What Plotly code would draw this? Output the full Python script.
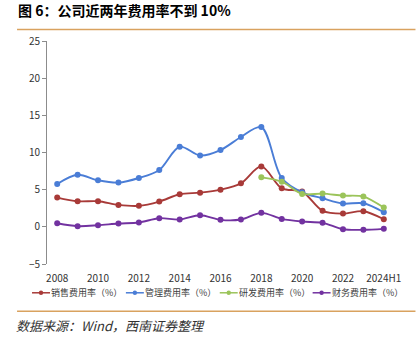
import plotly.graph_objects as go

# 年份（2024 为上半年）
years = ["2008", "2009", "2010", "2011", "2012", "2013", "2014", "2015", "2016",
         "2017", "2018", "2019", "2020", "2021", "2022", "2023", "2024H1"]
tick_years = ["2008", "2010", "2012", "2014", "2016", "2018", "2020", "2022", "2024H1"]

# 各项费用率（%）
sales_rate = [3.93, 3.44, 3.44, 2.95, 2.82, 3.40, 4.38, 4.60, 5.00,
              5.85, 8.13, 5.18, 4.74, 2.15, 1.78, 2.10, 1.02]
admin_rate = [5.77, 7.00, 6.26, 5.95, 6.57, 7.65, 10.78, 9.60, 10.33,
              12.08, 13.42, 6.57, 4.65, 3.84, 3.13, 3.17, 1.96]
rd_years = ["2018", "2019", "2020", "2021", "2022", "2023", "2024H1"]
rd_rate = [6.66, 6.08, 4.43, 4.47, 4.20, 4.07, 2.59]
fin_rate = [0.48, 0.09, 0.21, 0.44, 0.58, 1.16, 0.98, 1.56, 0.94,
            0.98, 1.88, 1.07, 0.71, 0.54, -0.32, -0.40, -0.27]

y_range = [-5, 25]

series = [
    ("销售费用率（%）", years, sales_rate, "#A83A38"),
    ("管理费用率（%）", years, admin_rate, "#4A7DD6"),
    ("研发费用率（%）", rd_years, rd_rate, "#9BC45A"),
    ("财务费用率（%）", years, fin_rate, "#7232A0"),
]

fig = go.Figure()
for name, xs, ys, color in series:
    fig.add_trace(go.Scatter(
        x=xs, y=ys, name=name, mode="lines+markers",
        line=dict(color=color, width=1.9, shape="spline", smoothing=0.9),
        marker=dict(color=color, size=6, symbol="circle"),
        showlegend=False,
    ))

axis_gray = "#8C8C8C"
tick_font = dict(family="Noto Sans CJK SC, sans-serif", size=10, color="#333333")

# plot area in pixels: 347.5 wide, 222.3 tall
PW, PH, L, B = 347.5, 222.3, 47, 264.3


def px_x(x):
    return (x - L) / PW


def px_y(y):
    return (B - y) / PH


fig.update_layout(
    width=418, height=343,
    margin=dict(l=47, r=23.5, t=41, b=79),
    paper_bgcolor="white", plot_bgcolor="white",
    showlegend=False,
    xaxis=dict(
        type="category", categoryorder="array", categoryarray=years,
        range=[-0.5, len(years) - 0.5],
        tickmode="array", tickvals=tick_years, ticktext=tick_years,
        showline=False, showgrid=False, zeroline=False, ticks="",
        tickfont=tick_font, ticklabelstandoff=7,
    ),
    xaxis2=dict(
        overlaying="x", anchor="free",
        position=(0 - y_range[0]) / (y_range[1] - y_range[0]),
        range=[-0.5, len(years) - 0.5],
        tickmode="array", tickvals=[i - 0.5 for i in range(len(years) + 1)],
        showticklabels=False, ticks="inside", ticklen=4, tickcolor=axis_gray,
        showline=True, linecolor=axis_gray, linewidth=1,
        showgrid=False, zeroline=False,
    ),
    yaxis=dict(
        range=y_range, dtick=5, tick0=0,
        showline=True, linecolor=axis_gray, linewidth=1,
        ticks="outside", ticklen=4, tickcolor=axis_gray,
        showgrid=False, zeroline=False,
        tickfont=tick_font,
    ),
)

# 图例：短线 + 圆点 + 文字，横向排成一行
legend_y = px_y(293)
legend_starts = [32, 126, 220, 313]
for (name, _, _, color), x0 in zip(series, legend_starts):
    fig.add_shape(type="line", xref="paper", yref="paper",
                  x0=px_x(x0), x1=px_x(x0 + 18), y0=legend_y, y1=legend_y,
                  line=dict(color=color, width=1.5))
    cx, r = x0 + 9, 2.2
    fig.add_shape(type="circle", xref="paper", yref="paper",
                  x0=px_x(cx - r), x1=px_x(cx + r),
                  y0=legend_y - r / PH, y1=legend_y + r / PH,
                  line=dict(color=color, width=0), fillcolor=color)
    fig.add_annotation(
        xref="paper", yref="paper", x=px_x(x0 + 18.5), y=legend_y,
        xanchor="left", yanchor="middle", showarrow=False, text=name,
        font=dict(family="Noto Sans CJK SC, sans-serif", size=9, color="#404040"),
        borderpad=0,
    )

# 标题、分隔线与数据来源
fig.add_annotation(
    xref="paper", yref="paper", x=px_x(17), y=px_y(11),
    xanchor="left", yanchor="middle", showarrow=False, borderpad=0,
    text="<b>图 6：公司近两年费用率不到 10%</b>",
    font=dict(family="Noto Sans CJK SC, sans-serif", size=14, color="#000000"),
)
for y_px in (30.5, 311.5):
    fig.add_shape(type="line", xref="paper", yref="paper",
                  x0=px_x(17), x1=px_x(416), y0=px_y(y_px), y1=px_y(y_px),
                  line=dict(color="#D9A25F", width=1.5))
fig.add_annotation(
    xref="paper", yref="paper", x=px_x(15), y=px_y(326),
    xanchor="left", yanchor="middle", showarrow=False, borderpad=0,
    text="<i>数据来源：Wind，西南证券整理</i>",
    font=dict(family="Noto Sans CJK SC, sans-serif", size=13, color="#333333"),
)

fig.write_html("out.html")
